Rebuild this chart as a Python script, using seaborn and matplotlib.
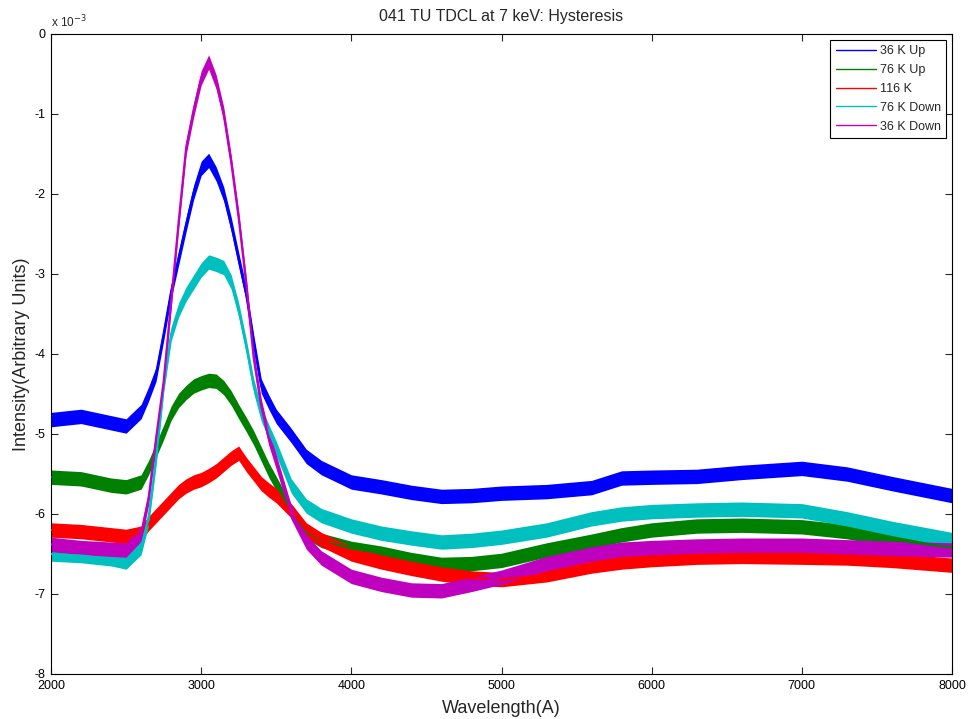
import numpy as np
import pandas as pd
import matplotlib
matplotlib.use("Agg")
import matplotlib.pyplot as plt
import seaborn as sns

# ---------------- data (intensity in units of 1e-3) ----------------
wavelength = [2000, 2200, 2400, 2500, 2600, 2650, 2700, 2750, 2800, 2850, 2900, 2950,
              3000, 3050, 3100, 3150, 3200, 3250, 3300, 3350, 3400, 3450, 3500, 3600,
              3700, 3800, 4000, 4200, 4400, 4600, 4800, 5000, 5300, 5600, 5800, 6000,
              6300, 6600, 7000, 7300, 7600, 8000]

up_36K = [-4.82, -4.78, -4.86, -4.90, -4.72, -4.50, -4.25, -3.75, -3.22, -2.80, -2.38, -1.98,
          -1.68, -1.58, -1.75, -2.00, -2.38, -2.82, -3.25, -3.85, -4.40, -4.60, -4.78, -5.02,
          -5.28, -5.42, -5.60, -5.66, -5.73, -5.78, -5.77, -5.74, -5.72, -5.67, -5.55, -5.54,
          -5.53, -5.48, -5.43, -5.50, -5.62, -5.77]

up_76K = [-5.54, -5.56, -5.64, -5.66, -5.60, -5.42, -5.20, -4.98, -4.74, -4.58, -4.48, -4.40,
          -4.36, -4.33, -4.34, -4.42, -4.55, -4.72, -4.88, -5.05, -5.25, -5.45, -5.62, -5.97,
          -6.22, -6.33, -6.43, -6.49, -6.57, -6.63, -6.62, -6.58, -6.45, -6.34, -6.26, -6.20,
          -6.15, -6.14, -6.16, -6.22, -6.32, -6.42]

k116 = [-6.20, -6.22, -6.26, -6.28, -6.24, -6.12, -6.02, -5.92, -5.82, -5.72, -5.65, -5.60,
        -5.57, -5.52, -5.46, -5.38, -5.30, -5.24, -5.38, -5.50, -5.62, -5.70, -5.77, -5.96,
        -6.20, -6.32, -6.50, -6.60, -6.68, -6.75, -6.80, -6.82, -6.76, -6.65, -6.60, -6.57,
        -6.54, -6.53, -6.54, -6.55, -6.58, -6.64]

down_76K = [-6.50, -6.52, -6.56, -6.60, -6.42, -6.05, -5.30, -4.40, -3.75, -3.45, -3.25, -3.10,
            -2.95, -2.85, -2.88, -2.92, -3.10, -3.45, -3.90, -4.40, -4.75, -4.97, -5.18, -5.65,
            -5.90, -6.02, -6.15, -6.24, -6.30, -6.35, -6.33, -6.29, -6.20, -6.06, -6.00, -5.97,
            -5.95, -5.94, -5.96, -6.06, -6.18, -6.32]

down_36K = [-6.38, -6.42, -6.44, -6.45, -6.25, -5.80, -5.05, -4.35, -3.35, -2.35, -1.42, -0.95,
            -0.55, -0.35, -0.60, -1.00, -1.60, -2.30, -3.12, -4.05, -4.65, -5.05, -5.35, -5.98,
            -6.35, -6.55, -6.78, -6.88, -6.95, -6.96, -6.88, -6.79, -6.62, -6.50, -6.44, -6.42,
            -6.40, -6.39, -6.39, -6.41, -6.43, -6.45]

series_names = ["36 K Up", "76 K Up", "116 K", "76 K Down", "36 K Down"]
series_values = [up_36K, up_76K, k116, down_76K, down_36K]
series_colors = ["#0000ff", "#008000", "#ff0000", "#00bfbf", "#bf00bf"]

x_ticks = [2000, 3000, 4000, 5000, 6000, 7000, 8000]
y_ticks = [-8, -7, -6, -5, -4, -3, -2, -1, 0]

title = "041 TU TDCL at 7 keV: Hysteresis"
x_label = "Wavelength(A)"
y_label = "Intensity(Arbitrary Units)"

# ---------------- build table ----------------
frames = []
for name, vals in zip(series_names, series_values):
    frames.append(pd.DataFrame({"Wavelength": wavelength, "Intensity": vals, "Series": name}))
df = pd.concat(frames, ignore_index=True)

# ---------------- plot ----------------
sns.set_style("ticks")
plt.rcParams["font.family"] = ["Liberation Sans", "DejaVu Sans"]
plt.rcParams["xtick.direction"] = "in"
plt.rcParams["ytick.direction"] = "in"

fig = plt.figure(figsize=(9.69, 7.19), dpi=100)
ax = fig.add_axes([51 / 969, 1 - 674 / 719, (952 - 51) / 969, (674 - 34) / 719])

noise_half = 0.09
for name, vals, col in zip(series_names, series_values, series_colors):
    v = np.asarray(vals)
    ax.fill_between(wavelength, v - noise_half, v + noise_half, color=col, lw=0, zorder=2)

sns.lineplot(data=df, x="Wavelength", y="Intensity", hue="Series",
             hue_order=series_names, palette=series_colors, ax=ax,
             linewidth=1.6, zorder=3, estimator=None, sort=False)

ax.set_xlim(2000, 8000)
ax.set_ylim(-8, 0)
ax.set_xticks(x_ticks)
ax.set_yticks(y_ticks)
ax.set_xticklabels([str(t) for t in x_ticks], fontsize=9)
ax.set_yticklabels([str(t) for t in y_ticks], fontsize=9)
ax.tick_params(axis="both", which="both", direction="in", length=5, width=0.8,
               top=True, right=True, colors="#262626", labelcolor="black", pad=4)
for sp in ax.spines.values():
    sp.set_visible(True)
    sp.set_color("black")
    sp.set_linewidth(0.8)

ax.set_title(title, fontsize=11.5, pad=9)
ax.set_xlabel(x_label, fontsize=13, labelpad=6)
ax.set_ylabel(y_label, fontsize=13, labelpad=3)
ax.text(0.0, 1.005, r"x 10$^{-3}$", transform=ax.transAxes, fontsize=8.5,
        ha="left", va="bottom")

leg = ax.legend(loc="upper right", fontsize=9, frameon=True, fancybox=False,
                framealpha=1, edgecolor="black", handlelength=3.2, borderpad=0.45,
                labelspacing=0.55, handletextpad=0.3, borderaxespad=0.45)
leg.get_frame().set_linewidth(0.8)
for line in leg.get_lines():
    line.set_linewidth(1.0)

fig.savefig("out.png", dpi=100, facecolor="white")
